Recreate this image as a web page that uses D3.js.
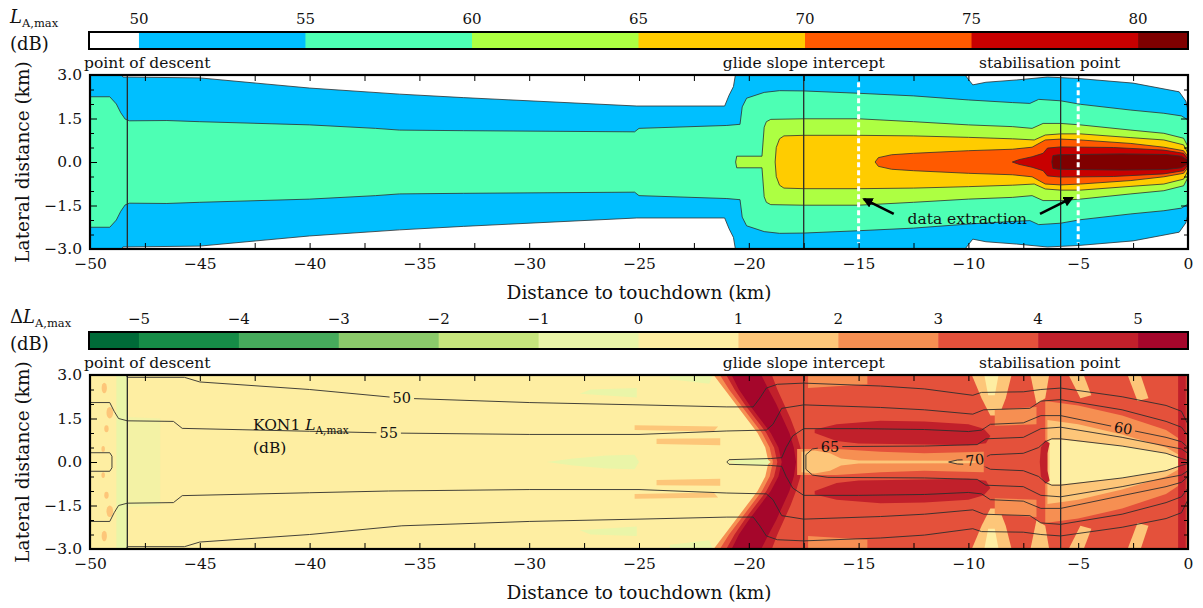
<!DOCTYPE html>
<html>
<head>
  <title>Lateral noise footprint</title>
  <meta charset="utf-8">
  <style>
  body { margin: 0; background: #fff; }
  svg text { font-family: "DejaVu Serif", "Liberation Serif", serif; fill: #111; }
  .lvl { stroke: #2e2e2e; stroke-width: 0.8px; }
  .kon { fill: none; stroke: #2e2e2e; stroke-width: 0.9px; }
  .mark { stroke: #2a2a2a; stroke-width: 1.3px; }
  </style>
</head>
<body>
<svg width="1203" height="608"></svg>
<script src="https://d3js.org/d3.v7.min.js"></script>
<script>

// colour scale of the upper map, L_A,max (dB)
var laBounds = [48.5, 50, 55, 60, 65, 70, 75, 80, 81.5];
var laColors = ["#ffffff", "#00bfff", "#4dffb4", "#adff42", "#ffcc00", "#ff5a00", "#c80000", "#7f0000"];
var laTicks = [50, 55, 60, 65, 70, 75, 80];

// colour scale of the lower map, difference (dB)
var dlBounds = [-5.5, -5, -4, -3, -2, -1, 0, 1, 2, 3, 4, 5, 5.5];
var dlColors = ["#006a38", "#168c47", "#46ab5c", "#8bca6a", "#c6e57d", "#eaf5a8",
                "#feeea2", "#fdc679", "#f68f52", "#e4513b", "#c1202b", "#a5062b"];
var dlTicks = [-5, -4, -3, -2, -1, 0, 1, 2, 3, 4, 5];

// upper map: contour half widths [distance km, lateral km], one array per level
var la50 = [[-50,3.05],[-48.6,3.05],[-48.5,2.93],[-45,2.9],[-40,2.55],[-35.9,2.34],[-33,2.22],[-25.1,1.93],[-21.1,1.93],[-20.9,2.3],[-20.7,2.6],[-20.6,3.05],[-10.2,3.05],[-10,2.85],[-9.8,2.66],[-9.2,2.75],[-7.8,2.83],[-6.4,2.93],[-5,2.88],[-2.5,2.72],[-0.4,2.42],[-0.1,2.1],[0,1.8]];
var la55 = [[-50,2.25],[-49.1,2.25],[-48.8,2.0],[-48.6,1.7],[-48.4,1.48],[-48.2,1.42],[-46.5,1.43],[-45,1.39],[-40,1.28],[-37,1.16],[-35.9,1.1],[-33,1.08],[-25.2,1.04],[-25.0,1.16],[-21,1.26],[-20.4,1.3],[-20.3,1.9],[-20.1,2.2],[-19.3,2.4],[-18.6,2.46],[-17.5,2.45],[-15,2.37],[-12.5,2.28],[-10,2.14],[-8,2.05],[-7.2,2.02],[-6.8,2.16],[-5.8,2.11],[-4.9,1.99],[-2.6,1.79],[-1.1,1.68],[-0.3,1.59],[0,1.45]];
var la60 = [[-20.6,0],[-20.55,0.2],[-19.4,0.2],[-19.3,1.2],[-19.2,1.39],[-19.0,1.47],[-17.5,1.49],[-15,1.49],[-12.5,1.39],[-10,1.28],[-8,1.22],[-7.1,1.16],[-6.6,1.33],[-5.8,1.33],[-4.9,1.28],[-2.6,1.1],[-1.1,0.99],[-0.2,0.82],[0,0.53]];
var la65 = [[-18.8,0],[-18.75,0.5],[-18.6,0.8],[-18.4,0.9],[-17.5,0.92],[-15,0.92],[-12.5,0.9],[-10,0.85],[-8,0.8],[-7,0.76],[-6.5,0.93],[-5.8,0.97],[-4.9,0.97],[-2.6,0.84],[-1.1,0.76],[-0.2,0.59],[0,0.3]];
var la70 = [[-14.25,0],[-14.1,0.15],[-13.5,0.25],[-12.5,0.3],[-10,0.39],[-8,0.44],[-7.1,0.51],[-6.5,0.76],[-5.8,0.79],[-4.9,0.76],[-2.6,0.64],[-1.1,0.51],[-0.2,0.39],[0,0.18]];
var la75 = [[-8.0,0],[-7.7,0.08],[-7.1,0.18],[-6.6,0.3],[-6.4,0.48],[-5.8,0.52],[-3.4,0.5],[-1.1,0.41],[-0.2,0.3],[0,0.1]];
var la80 = [[-6.2,0],[-6.15,0.22],[-5.9,0.25],[-3,0.28],[-1,0.26],[-0.3,0.2],[0,0.05]];

// lower map: patches of the difference, upper half [distance km, lateral km]
var dlPaleStrip = [[-48.8,0],[-48.8,3.1],[-48.3,3.1],[-48.3,0]];
var dlPaleNear = [[-48.3,0],[-48.3,1.55],[-46.8,1.5],[-46.8,0]];
var dlPaleAxis = [[-29.2,0],[-28,0.12],[-26.5,0.22],[-25.2,0.25],[-25.0,0]];
var dlPaleSpike = [[-21.0,0],[-20.5,0.08],[-19.2,0.12],[-19.0,0]];
var dlPaleOuter = [[-27.7,2.35],[-25.1,2.22],[-25.1,2.55],[-27.2,2.5]];
var dlPaleTop = [[-23.6,2.85],[-21.8,2.7],[-21.6,3.1],[-23.6,3.1]];
var dlStreakOuter = [[-25.2,1.1],[-21.6,1.05],[-21.4,1.22],[-25.2,1.27]];
var dlStreakInner = [[-24.2,0.62],[-21.3,0.58],[-21.3,0.82],[-24.2,0.8]];
var dlFringe = [[-19.1,0],[-19.25,0.5],[-19.6,1],[-20.1,1.5],[-20.6,2],[-21.1,2.5],[-21.7,3.1],[0.1,3.1],[0.1,0]];
var dlBase = [[-18.9,0],[-19.05,0.5],[-19.4,1],[-19.9,1.5],[-20.4,2],[-20.9,2.5],[-21.4,3.1],[0.1,3.1],[0.1,0]];
var dlChevron = [[-18.7,0],[-18.85,0.5],[-19.2,1],[-19.7,1.5],[-20.2,2],[-20.65,2.5],[-21.1,3.1],[-19.0,3.1],[-18.7,2.5],[-18.4,2.0],[-18.1,1.5],[-17.85,1.0],[-17.65,0.5],[-17.55,0]];
var dlChevronCore = [[-18.5,0],[-18.65,0.5],[-19.0,1],[-19.5,1.5],[-20.0,2],[-20.45,2.5],[-20.85,3.1],[-19.5,3.1],[-19.1,2.5],[-18.75,2.0],[-18.45,1.5],[-18.15,1.0],[-17.95,0.5],[-17.85,0]];
var dlCoreOrange = [[-17.8,0],[-17.8,0.45],[-16,0.45],[-14,0.35],[-12,0.3],[-9.3,0.35],[-9.3,0]];
var dlCoreLight = [[-17.6,0],[-17.6,0.35],[-17,0.4],[-16.3,0.3],[-15.8,0.12],[-15.0,0.05],[-10,0.04],[-9.5,0]];
var dlBand = [[-17.0,1.0],[-16,0.72],[-15,0.64],[-12,0.6],[-10,0.58],[-9.2,0.65],[-9.0,0.9],[-9.3,1.15],[-10,1.3],[-12,1.4],[-14,1.42],[-16,1.3],[-17,1.12]];
var dlTopPatch = [[-17.3,2.55],[-14.6,2.68],[-14.6,3.1],[-17.3,3.1]];
var dlStripeA = [[-9.9,3.1],[-9.4,2.2],[-9.0,1.6],[-8.6,1.6],[-8.3,2.2],[-8.0,3.1]];
var dlStripeACore = [[-9.3,3.1],[-9.1,2.3],[-8.8,2.3],[-8.6,3.1]];
var dlStripeB = [[-7.2,3.1],[-6.9,2.0],[-6.5,2.2],[-6.3,3.1]];
var dlMid = [[-8.8,1.25],[-6.9,1.3],[-6.9,1.9],[-8.8,1.8]];
var dlConeOrange = [[-6.5,0],[-6.5,2.1],[-5,1.95],[-3,1.6],[-1,1.1],[-0.4,0.8],[-0.4,0]];
var dlConeLight = [[-6.4,0],[-6.4,1.45],[-5,1.3],[-3,0.95],[-1,0.5],[-0.3,0.2],[-0.3,0]];
var dlConeCream = [[-6.3,0],[-6.3,0.78],[-5.5,0.75],[-3,0.55],[-1,0.3],[-0.3,0.08],[-0.2,0]];
var dlCrescent = [[-6.75,0],[-6.7,0.5],[-6.5,0.75],[-6.3,0.65],[-6.4,0.3],[-6.4,0]];
var dlEdge = [[-0.45,0],[-0.45,3.1],[-0.1,3.1],[-0.1,0]];
var dlStripeC = [[-5.5,3.1],[-4.9,2.2],[-4.4,2.3],[-4.8,3.1]];
var dlStripeD = [[-2.8,3.1],[-2.3,2.1],[-1.8,2.2],[-2.2,3.1]];
var dlSpots = [[-49.35,2.55,0.12,0.18],[-49.1,1.7,0.15,0.2],[-49.25,1.15,0.1,0.12],[-49.4,0.45,0.08,0.1]];

// which class (index into dlColors) each patch gets, drawn in this order
var dlLayers = [
  [dlPaleStrip, 5], [dlPaleNear, 5], [dlPaleAxis, 5], [dlPaleOuter, 5], [dlPaleTop, 5],
  [dlStreakOuter, 7], [dlStreakInner, 7],
  [dlFringe, 8], [dlBase, 9], [dlChevron, 10], [dlChevronCore, 11], [dlPaleSpike, 5],
  [dlTopPatch, 8], [dlCoreOrange, 8], [dlCoreLight, 7], [dlBand, 10],
  [dlStripeA, 7], [dlStripeACore, 6], [dlStripeB, 7], [dlMid, 8],
  [dlStripeC, 7], [dlStripeD, 7],
  [dlConeOrange, 8], [dlConeLight, 7], [dlConeCream, 6], [dlCrescent, 10], [dlEdge, 10]
];

// lower map: KON1 L_A,max contour lines, half widths
var kon50 = [[-48.35,3.0],[-48.3,2.92],[-45.7,2.92],[-45,2.76],[-40,2.5],[-35.8,2.2],[-30,2.05],[-25,1.97],[-21,1.9],[-19.8,1.9],[-19.5,2.2],[-19.2,2.55],[-18.7,2.68],[-17.5,2.72],[-14,2.62],[-12,2.52],[-9.8,2.3],[-9.4,2.4],[-7.5,2.42],[-6.7,2.5],[-5.8,2.55],[-3,2.25],[-1,1.95],[-0.3,1.75],[0,1.3]];
var kon55 = [[-50,2.05],[-49.1,2.05],[-48.9,1.75],[-48.7,1.5],[-48.3,1.42],[-46.2,1.4],[-45.8,1.16],[-40,1.06],[-36.4,1.0],[-30,0.95],[-25,0.95],[-21,1.07],[-19.2,1.1],[-18.9,1.3],[-18.5,1.85],[-17.5,1.97],[-14,1.88],[-12,1.8],[-9.8,1.65],[-9.3,1.8],[-7.2,1.85],[-6.7,2.1],[-5.8,2.15],[-3,1.8],[-1,1.4],[-0.3,1.2],[0,0.9]];
var kon60 = [[-21.0,0],[-20.9,0.08],[-19,0.12],[-18.5,0.15],[-18.3,0.5],[-18.0,0.9],[-17.5,1.15],[-15,1.15],[-12,1.12],[-10,1.05],[-9.4,1.1],[-9.0,1.3],[-7.5,1.35],[-6.7,1.6],[-5.8,1.6],[-3,1.16],[-1,0.85],[-0.3,0.7],[0,0.5]];
var kon65 = [[-17.4,0],[-17.4,0.25],[-17.1,0.45],[-16.4,0.53],[-12,0.55],[-9.6,0.6],[-9.2,0.8],[-7.5,0.85],[-6.7,1.15],[-5.8,1.2],[-3,0.85],[-1,0.55],[-0.3,0.45],[0,0.3]];
var kon70 = [[-10.9,0],[-10.5,0.07],[-9.4,0.1],[-9.0,0.25],[-7.5,0.3],[-6.8,0.5],[-6.5,0.7],[-6.2,0.8],[-5.8,0.8],[-3,0.55],[-1,0.3],[-0.3,0.12],[0,0.05]];
var konBox = [[-50,0.32],[-49.1,0.32],[-49.0,0.2],[-49.0,0]];
var konLines = [kon50, kon55, kon60, kon65, kon70, konBox];
var konLabels = [["50", -35.8, 2.2, 0], ["55", -36.4, 1.0, 0], ["65", -16.3, 0.51, 0],
                 ["70", -9.7, 0.07, -8], ["60", -2.95, 1.16, 10]];

// flight path markers and the data extraction stations
var markX = [-48.3, -17.5, -5.8];
var markNames = ["point of descent", "glide slope intercept", "stabilisation point"];
var markLabelX = [-47.1, -17.5, -6.3];
var extractX = [-15, -5];
var arrows = [[-13.4, -1.79, -14.75, -1.28], [-6.74, -1.79, -5.28, -1.24]];

var xTicks = d3.range(-50, 0.1, 2.5);
var yTicks = d3.range(-3, 3.01, 0.5);

var svg = d3.select("svg"),
    width = +svg.attr("width"),
    height = +svg.attr("height");

var x = d3.scaleLinear().domain([-50, 0]).range([90, 1188]);
var yA = d3.scaleLinear().domain([-3, 3]).range([249, 75]);
var yB = d3.scaleLinear().domain([-3, 3]).range([549, 375]);

var defs = svg.append("defs");
[["clipA", yA], ["clipB", yB]].forEach(function(c) {
  defs.append("clipPath").attr("id", c[0]).append("rect")
      .attr("x", x(-50)).attr("y", c[1](3))
      .attr("width", x(0) - x(-50)).attr("height", c[1](-3) - c[1](3));
});
defs.append("marker")
    .attr("id", "head").attr("viewBox", "0 0 10 10")
    .attr("refX", 8).attr("refY", 5)
    .attr("markerWidth", 4).attr("markerHeight", 4)
    .attr("orient", "auto")
  .append("path").attr("d", "M0,0L10,5L0,10z").attr("fill", "#000");

var mask = defs.append("mask").attr("id", "gaps")
    .attr("maskUnits", "userSpaceOnUse")
    .attr("x", 0).attr("y", 0).attr("width", width).attr("height", height);
mask.append("rect").attr("width", width).attr("height", height).attr("fill", "#fff");

// ---------- colour bars ----------
function colorbar(top, bounds, colors, ticks) {
  var cx = d3.scaleLinear().domain([bounds[0], bounds[bounds.length - 1]]).range([89, 1188]);
  var g = svg.append("g");
  g.selectAll("rect.seg")
    .data(colors)
    .enter().append("rect")
      .attr("x", function(d, i) { return cx(bounds[i]); })
      .attr("width", function(d, i) { return cx(bounds[i + 1]) - cx(bounds[i]) + 0.5; })
      .attr("y", top).attr("height", 17)
      .attr("fill", function(d) { return d; });
  g.append("rect")
      .attr("x", cx.range()[0]).attr("y", top)
      .attr("width", cx.range()[1] - cx.range()[0]).attr("height", 17)
      .attr("fill", "none").attr("stroke", "#000").attr("stroke-width", 2);
  g.selectAll("text")
    .data(ticks)
    .enter().append("text")
      .attr("x", cx).attr("y", top - 8)
      .attr("text-anchor", "middle").attr("font-size", 15)
      .text(d3.format("d"));
}

function cbTitle(top, prefix) {
  var t = svg.append("text").attr("x", 10).attr("y", top - 9).attr("font-size", 18);
  if (prefix) t.append("tspan").text(prefix);
  t.append("tspan").attr("font-style", "italic").text("L");
  t.append("tspan").attr("dy", 4).attr("font-size", 11.5).text("A,max");
  svg.append("text").attr("x", 10).attr("y", top + 18).attr("font-size", 18).text("(dB)");
}

colorbar(32, laBounds, laColors, laTicks);
cbTitle(32, "");
colorbar(332, dlBounds, dlColors, dlTicks);
cbTitle(332, "\u0394");

// ---------- upper map ----------
var gA = svg.append("g").attr("clip-path", "url(#clipA)");
gA.append("rect")
    .attr("x", x(-50)).attr("y", yA(3))
    .attr("width", x(0) - x(-50)).attr("height", yA(-3) - yA(3))
    .attr("fill", laColors[0]);

var band = d3.area()
    .x(function(d) { return x(d[0]); })
    .y0(function(d) { return yA(-d[1]); })
    .y1(function(d) { return yA(d[1]); });

gA.selectAll("path.lvl")
  .data([la50, la55, la60, la65, la70, la75, la80])
  .enter().append("path")
    .attr("class", "lvl")
    .attr("d", band)
    .attr("fill", function(d, i) { return laColors[i + 1]; });

// ---------- lower map ----------
var gB = svg.append("g").attr("clip-path", "url(#clipB)");
gB.append("rect")
    .attr("x", x(-50)).attr("y", yB(3))
    .attr("width", x(0) - x(-50)).attr("height", yB(-3) - yB(3))
    .attr("fill", dlColors[6]);

var lineB = d3.line()
    .x(function(d) { return x(d[0]); })
    .y(function(d) { return yB(d[1]); });

function mirror(pts) {
  return pts.map(function(p) { return [p[0], -p[1]]; });
}

// a patch touching the track axis is closed with its mirror image,
// a patch away from the axis is drawn twice
function patchPaths(pts) {
  var first = pts[0], last = pts[pts.length - 1];
  if (first[1] === 0 && last[1] === 0) {
    return [lineB(pts.concat(mirror(pts).reverse())) + "Z"];
  }
  return [lineB(pts) + "Z", lineB(mirror(pts)) + "Z"];
}

dlLayers.forEach(function(layer, i) {
  gB.selectAll("path.p" + i)
    .data(patchPaths(layer[0]))
    .enter().append("path")
      .attr("d", function(d) { return d; })
      .attr("fill", dlColors[layer[1]])
      .attr("opacity", layer[0] === dlPaleNear ? 0.55 : 1);
});

gB.selectAll("ellipse.spot")
  .data(dlSpots.concat(dlSpots.map(function(s) { return [s[0], -s[1], s[2], s[3]]; })))
  .enter().append("ellipse")
    .attr("cx", function(d) { return x(d[0]); })
    .attr("cy", function(d) { return yB(d[1]); })
    .attr("rx", function(d) { return x(d[2]) - x(0); })
    .attr("ry", function(d) { return yB(0) - yB(d[3]); })
    .attr("fill", dlColors[7]);

var gK = gB.append("g").attr("mask", "url(#gaps)");
konLines.forEach(function(pts) {
  gK.append("path").attr("class", "kon").attr("d", lineB(pts));
  gK.append("path").attr("class", "kon").attr("d", lineB(mirror(pts)));
});

var labels = gB.selectAll("text.klab")
  .data(konLabels)
  .enter().append("text")
    .attr("class", "klab")
    .attr("font-size", 14.5)
    .attr("text-anchor", "middle")
    .attr("dominant-baseline", "central")
    .attr("transform", function(d) {
      return "translate(" + x(d[1]) + "," + yB(d[2]) + ") rotate(" + d[3] + ")";
    })
    .text(function(d) { return d[0]; });

labels.each(function(d) {
  var b = this.getBBox();
  mask.append("rect")
      .attr("x", b.x - 3).attr("y", b.y)
      .attr("width", b.width + 6).attr("height", b.height)
      .attr("transform", d3.select(this).attr("transform"))
      .attr("fill", "#000");
});

var kon = gB.append("text").attr("x", 253).attr("y", yB(1.12)).attr("font-size", 15.5);
kon.append("tspan").text("KON1 ");
kon.append("tspan").attr("font-style", "italic").text("L");
kon.append("tspan").attr("dy", 4).attr("font-size", 10.5).text("A,max");
gB.append("text").attr("x", 253).attr("y", yB(0.32)).attr("font-size", 15.5).text("(dB)");

// ---------- markers ----------
[[gA, yA], [gB, yB]].forEach(function(p) {
  p[0].selectAll("line.mark")
    .data(markX)
    .enter().append("line")
      .attr("class", "mark")
      .attr("x1", x).attr("x2", x)
      .attr("y1", p[1](3)).attr("y2", p[1](-3));
  svg.selectAll(null)
    .data(markNames)
    .enter().append("text")
      .attr("x", function(d, i) { return i === 0 ? x(-50) - 6 : x(markLabelX[i]); })
      .attr("y", p[1](3) - 7)
      .attr("text-anchor", function(d, i) { return i === 0 ? "start" : "middle"; })
      .attr("font-size", 15.5)
      .text(function(d) { return d; });
});

gA.selectAll("line.extract")
  .data(extractX)
  .enter().append("line")
    .attr("x1", x).attr("x2", x)
    .attr("y1", yA(2.75)).attr("y2", yA(-2.8))
    .attr("stroke", "#fff").attr("stroke-width", 3)
    .attr("stroke-dasharray", "5,3");

gA.selectAll("line.arrow")
  .data(arrows)
  .enter().append("line")
    .attr("x1", function(d) { return x(d[0]); })
    .attr("y1", function(d) { return yA(d[1]); })
    .attr("x2", function(d) { return x(d[2]); })
    .attr("y2", function(d) { return yA(d[3]); })
    .attr("stroke", "#000").attr("stroke-width", 2.6)
    .attr("marker-end", "url(#head)");

gA.append("text")
    .attr("x", x(-10.05)).attr("y", yA(-2.15))
    .attr("text-anchor", "middle").attr("font-size", 15.5)
    .text("data extraction");

// ---------- axes ----------
function axes(y) {
  var top = y(3), bottom = y(-3);
  var fx = d3.format("d"), fy = d3.format(".1f");
  var major = function(v) { return Math.abs(v % 1.5) < 1e-9; };

  var gx = svg.append("g").attr("transform", "translate(0," + bottom + ")")
      .call(d3.axisBottom(x).tickValues(xTicks).tickSizeInner(-6).tickSizeOuter(0).tickPadding(9)
        .tickFormat(function(d) { return d % 5 === 0 ? fx(d) : ""; }));
  var gt = svg.append("g").attr("transform", "translate(0," + top + ")")
      .call(d3.axisTop(x).tickValues(xTicks).tickSizeInner(-6).tickSizeOuter(0).tickFormat(""));
  var gl = svg.append("g").attr("transform", "translate(" + x(-50) + ",0)")
      .call(d3.axisLeft(y).tickValues(yTicks).tickSizeInner(-6).tickSizeOuter(0).tickPadding(8)
        .tickFormat(function(d) { return major(d) ? fy(d) : ""; }));
  var gr = svg.append("g").attr("transform", "translate(" + x(0) + ",0)")
      .call(d3.axisRight(y).tickValues(yTicks).tickSizeInner(-6).tickSizeOuter(0).tickFormat(""));

  gl.selectAll(".tick line").attr("x2", function(d) { return major(d) ? 7 : 4; });
  gr.selectAll(".tick line").attr("x2", function(d) { return major(d) ? -7 : -4; });

  [gx, gt, gl, gr].forEach(function(g) {
    g.select(".domain").remove();
    g.attr("font-family", null).attr("font-size", 15.5);
    g.selectAll(".tick line").attr("stroke", "#000").attr("stroke-width", 1);
    g.selectAll(".tick text").attr("fill", "#111");
  });

  svg.append("rect")
      .attr("x", x(-50)).attr("y", top)
      .attr("width", x(0) - x(-50)).attr("height", bottom - top)
      .attr("fill", "none").attr("stroke", "#000").attr("stroke-width", 2.2);

  svg.append("text")
      .attr("transform", "translate(29," + ((top + bottom) / 2) + ") rotate(-90)")
      .attr("text-anchor", "middle").attr("font-size", 18.5)
      .text("Lateral distance (km)");
  svg.append("text")
      .attr("x", (x(-50) + x(0)) / 2).attr("y", bottom + 50)
      .attr("text-anchor", "middle").attr("font-size", 18.5)
      .text("Distance to touchdown (km)");
}

axes(yA);
axes(yB);

</script>
</body>
</html>
